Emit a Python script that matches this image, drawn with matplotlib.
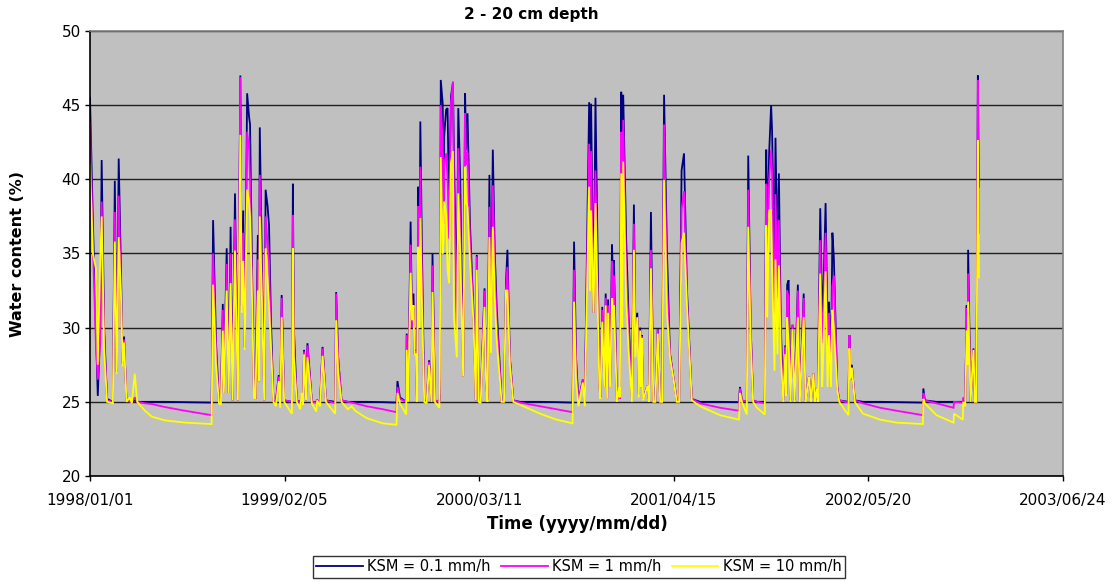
import numpy as np
import matplotlib
matplotlib.use("Agg")
import matplotlib.pyplot as plt

# ---------------- data ----------------
start_date = "1998-01-01"

days = [0, 6, 12, 16, 21, 24, 29, 35, 47, 51, 55, 59, 64, 67, 70, 75, 82, 86, 92, 97,
        113, 127, 154, 195, 250, 253, 259, 265, 269, 273, 275, 281, 285, 289, 293, 298,
        304, 309, 312, 315, 318, 323, 327, 329, 333, 337, 340, 345, 347, 349, 354, 358,
        361, 365, 368, 372, 377, 382, 388, 391, 394, 399, 415, 417, 419, 425, 432, 435,
        438, 440, 444, 447, 456, 465, 467, 473, 478, 485, 504, 506, 510, 517, 530, 538,
        545, 569, 602, 630, 632, 637, 650, 651, 654, 659, 662, 665, 667, 670, 672, 675,
        677, 679, 682, 687, 692, 697, 702, 704, 709, 718, 719, 721, 725, 727, 728, 732,
        735, 738, 742, 746, 748, 754, 757, 761, 767, 771, 773, 776, 781, 788, 793, 795,
        799, 803, 811, 814, 817, 821, 824, 828, 832, 836, 846, 851, 855, 858, 863, 870,
        884, 925, 959, 992, 995, 999, 1004, 1013, 1017, 1026, 1028, 1030, 1035, 1039,
        1047, 1049, 1053, 1057, 1060, 1063, 1065, 1069, 1073, 1075, 1077, 1083, 1088,
        1089, 1092, 1094, 1096, 1102, 1107, 1114, 1118, 1121, 1125, 1128, 1131, 1133,
        1134, 1137, 1146, 1149, 1153, 1158, 1162, 1167, 1172, 1176, 1180, 1186, 1192,
        1199, 1206, 1211, 1216, 1221, 1227, 1237, 1254, 1295, 1334, 1336, 1340, 1350,
        1353, 1358, 1363, 1371, 1387, 1390, 1392, 1396, 1400, 1402, 1407, 1409, 1413,
        1416, 1420, 1425, 1429, 1431, 1433, 1436, 1440, 1444, 1448, 1455, 1459, 1467,
        1471, 1478, 1482, 1487, 1490, 1494, 1496, 1501, 1505, 1507, 1512, 1516, 1519,
        1523, 1526, 1529, 1536, 1540, 1559, 1561, 1563, 1566, 1572, 1589, 1624, 1658,
        1712, 1713, 1716, 1740, 1775, 1776, 1794, 1795, 1799, 1802, 1804, 1805, 1810,
        1816, 1819, 1822, 1825, 1827]

ksm_0_1 = [45.5, 37.0, 30.0, 25.4, 30.0, 41.3, 30.0, 25.2, 25.0, 39.9, 27.0, 41.4, 33.2, 27.6, 29.4, 25.1, 25.0, 25.0, 25.1, 25.0,
           25.0, 25.0, 25.0, 24.98, 24.95, 37.25, 29.0, 25.0, 25.0, 31.6, 25.6, 35.35, 25.6, 36.8, 25.1, 39.05,
           25.1, 47.0, 31.5, 37.9, 28.7, 45.8, 44.2, 43.7, 34.0, 25.5, 25.2, 36.25, 26.4, 43.5, 33.0, 25.1,
           39.3, 38.2, 36.9, 30.4, 25.1, 25.0, 26.8, 25.0, 32.2, 25.1, 25.0, 39.7, 30.0, 25.1, 25.0, 25.2,
           25.0, 28.5, 25.1, 28.95, 25.0, 25.0, 25.1, 25.0, 28.7, 25.1, 25.0, 32.4, 28.0, 25.1, 25.0, 25.0,
           25.0, 25.0, 24.98, 24.95, 26.4, 25.3, 25.0, 29.6, 25.0, 37.15, 30.0, 32.3, 28.2, 28.5, 25.1, 39.5,
           33.0, 43.9, 36.0, 25.1, 25.0, 27.8, 25.0, 35.0, 25.1, 25.0, 25.3, 46.7, 45.1, 38.0, 42.9, 44.7,
           44.8, 38.0, 45.6, 46.5, 41.8, 31.0, 44.8, 40.0, 26.7, 45.8, 42.0, 44.45, 37.0, 31.3, 25.1, 34.9,
           25.1, 25.0, 32.65, 26.5, 25.1, 40.3, 30.0, 42.0, 35.0, 31.3, 25.1, 25.0, 33.0, 35.25, 28.0, 25.1,
           25.0, 25.0, 24.98, 24.95, 35.8, 28.0, 25.0, 26.5, 25.0, 45.2, 33.0, 45.1, 31.0, 45.5,
           26.1, 25.3, 31.4, 26.0, 32.3, 25.2, 31.9, 26.0, 35.6, 33.0, 34.55, 25.1, 25.5,
           25.2, 45.9, 36.0, 45.7, 36.0, 30.8, 25.1, 38.3, 30.0, 31.0, 25.5, 30.0, 26.0,
           29.5, 25.2, 26.1, 25.1, 37.8, 25.1, 25.0, 29.95, 25.0, 25.0, 45.7, 35.0, 28.3,
           26.7, 25.1, 25.0, 40.6, 41.75, 32.6, 25.2, 25.0, 25.0, 24.98, 26.0, 25.1, 25.0,
           41.6, 30.0, 25.1, 25.0, 25.0, 42.0, 36.0, 41.8, 45.0, 43.3, 33.9, 42.8, 35.0,
           40.4, 30.0, 25.1, 28.8, 25.5, 32.9, 33.2, 25.1, 30.2, 25.1, 32.9, 25.1, 32.3,
           25.1, 26.7, 25.1, 26.9, 25.1, 25.9, 25.1, 38.05, 31.0, 31.6, 38.4, 30.0, 31.75,
           27.0, 36.4, 34.7, 26.0, 25.1, 25.0, 29.5, 26.5, 27.5, 25.1, 25.0, 25.0, 24.98,
           24.95, 25.9, 25.1, 25.0, 25.0, 25.0, 25.0, 25.1, 25.0, 31.5, 28.0, 35.25, 25.0,
           28.6, 25.0, 25.0, 47.0, 39.5]

ksm_1 = [43.8, 35.5, 29.0, 26.5, 29.0, 38.5, 29.5, 25.1, 25.0, 37.8, 27.0, 38.9, 32.1, 27.5, 29.2, 25.1, 25.0, 25.0, 25.3, 25.0,
         24.9, 24.85, 24.65, 24.4, 24.1, 35.0, 28.5, 25.0, 25.0, 31.2, 25.6, 34.3, 25.6, 35.0, 25.1, 37.3,
         25.1, 46.9, 31.2, 36.4, 28.6, 43.2, 42.0, 40.0, 33.0, 25.4, 25.2, 34.6, 26.4, 40.3, 32.0, 25.1,
         37.5, 35.7, 34.5, 29.05, 25.1, 25.0, 26.7, 25.0, 32.0, 25.1, 25.0, 37.6, 29.0, 25.1, 24.95, 25.4,
         25.0, 28.4, 25.1, 28.8, 25.0, 24.95, 25.1, 25.0, 28.6, 25.1, 24.9, 32.3, 28.0, 25.1, 25.0, 24.95,
         24.9, 24.7, 24.5, 24.3, 26.0, 25.2, 25.0, 29.5, 25.0, 35.6, 30.0, 31.5, 28.2, 28.4, 25.1, 38.2,
         33.0, 40.85, 34.0, 25.1, 25.0, 27.7, 25.0, 34.2, 25.1, 25.0, 25.5, 45.0, 42.5, 37.0, 41.0, 41.75,
         40.0, 36.0, 45.2, 46.6, 39.5, 30.0, 42.1, 37.0, 26.7, 44.45, 41.0, 41.8, 36.0, 31.0, 25.1, 34.8,
         25.1, 25.0, 32.5, 26.5, 25.1, 38.15, 29.5, 39.6, 34.0, 30.5, 25.1, 25.0, 32.5, 34.1, 28.0, 25.1,
         24.95, 24.7, 24.5, 24.3, 33.9, 27.5, 25.0, 26.5, 25.0, 42.4, 33.0, 41.9, 31.0, 40.6,
         26.1, 25.3, 31.2, 26.0, 32.0, 25.2, 31.5, 26.0, 34.5, 32.0, 33.5, 25.1, 25.5,
         25.2, 43.2, 36.0, 44.0, 34.0, 30.0, 25.1, 37.0, 29.0, 30.7, 25.5, 29.8, 26.0,
         29.4, 25.2, 26.1, 25.1, 35.25, 25.1, 25.0, 29.9, 25.0, 25.0, 43.7, 33.0, 28.2,
         26.7, 25.1, 25.0, 38.0, 39.2, 32.0, 25.2, 24.9, 24.6, 24.4, 25.9, 25.1, 25.0,
         39.3, 30.0, 25.1, 25.0, 24.9, 39.7, 34.0, 40.0, 42.0, 40.5, 30.0, 39.0, 32.0,
         37.25, 29.0, 25.1, 28.7, 25.5, 32.5, 32.0, 25.1, 30.2, 25.1, 32.5, 25.1, 32.0,
         25.1, 26.7, 25.1, 26.9, 25.1, 25.9, 25.1, 35.9, 29.0, 30.0, 36.4, 28.0, 31.0,
         27.0, 32.8, 33.5, 26.0, 25.1, 24.95, 29.5, 26.5, 27.3, 25.1, 24.9, 24.6, 24.4,
         24.1, 25.6, 25.1, 24.9, 24.6, 25.0, 24.95, 25.3, 25.1, 31.3, 28.0, 33.65, 25.0,
         28.5, 25.0, 25.0, 46.7, 36.4]

ksm_10 = [41.0, 35.0, 34.0, 27.5, 34.5, 37.5, 28.5, 25.0, 24.9, 35.8, 26.9, 36.1, 31.9, 27.4, 29.0, 25.0, 25.3, 24.9, 26.9, 25.0,
          24.4, 24.0, 23.75, 23.6, 23.5, 32.9, 27.5, 24.9, 24.8, 29.8, 25.6, 32.5, 25.6, 33.0, 25.1, 35.2,
          25.1, 43.0, 31.0, 34.5, 28.5, 39.3, 38.5, 37.5, 32.0, 25.3, 25.2, 32.5, 26.4, 37.5, 31.0, 25.1,
          35.35, 33.2, 31.5, 28.7, 25.0, 24.7, 26.4, 24.6, 30.7, 25.0, 24.2, 35.35, 28.0, 25.0, 24.5, 25.6,
          24.8, 28.2, 25.1, 28.0, 24.9, 24.35, 25.1, 24.7, 28.1, 25.0, 24.2, 30.5, 27.0, 25.0, 24.5, 24.7,
          24.4, 23.9, 23.55, 23.45, 25.6, 24.9, 24.15, 28.5, 25.0, 33.7, 30.5, 31.5, 28.2, 28.2, 25.0, 35.45,
          30.0, 37.4, 32.0, 25.0, 24.9, 27.5, 25.0, 32.4, 25.0, 24.6, 26.8, 41.5, 35.0, 36.0, 38.5, 37.7,
          33.9, 33.0, 41.1, 41.9, 30.7, 28.0, 39.05, 35.0, 26.7, 40.85, 38.5, 38.1, 34.5, 30.5, 25.1, 33.9,
          25.0, 24.9, 31.4, 26.5, 25.0, 36.1, 28.3, 36.8, 32.0, 29.2, 25.0, 25.0, 32.5, 32.5, 27.5, 25.0,
          24.8, 24.2, 23.8, 23.55, 31.75, 26.5, 24.7, 26.3, 24.7, 39.5, 32.5, 37.9, 31.0, 38.4,
          26.0, 25.2, 30.4, 26.0, 31.5, 25.2, 31.0, 26.0, 32.0, 30.0, 31.5, 25.0, 26.0,
          25.3, 40.4, 30.0, 41.2, 32.0, 28.5, 25.0, 35.25, 28.0, 30.7, 25.3, 29.8, 26.0,
          29.3, 25.1, 26.1, 25.0, 34.0, 25.0, 25.0, 29.6, 25.0, 25.0, 39.95, 31.0, 28.0,
          26.6, 25.0, 25.0, 35.7, 36.4, 31.5, 25.1, 24.7, 24.1, 23.8, 25.6, 25.0, 24.15,
          36.8, 29.0, 25.0, 24.6, 24.15, 36.9, 30.7, 37.9, 37.9, 34.0, 27.1, 34.6, 28.2,
          34.2, 28.0, 25.0, 28.2, 25.4, 30.7, 29.0, 25.0, 29.9, 25.0, 30.7, 25.0, 30.7,
          25.0, 26.7, 25.0, 26.9, 25.0, 25.9, 25.0, 33.65, 26.0, 28.0, 33.8, 26.0, 29.5,
          26.0, 31.2, 30.0, 25.8, 25.0, 24.1, 28.6, 26.5, 27.3, 25.0, 24.2, 23.8, 23.6,
          23.5, 25.2, 24.9, 24.1, 23.6, 24.2, 23.8, 25.0, 24.7, 29.8, 27.5, 31.75, 25.0,
          28.5, 25.0, 25.0, 42.65, 33.4]

series_labels = ["KSM = 0.1 mm/h", "KSM = 1 mm/h", "KSM = 10 mm/h"]
series_colors = ["#000080", "#FF00FF", "#FFFF00"]
x_tick_labels = ["1998/01/01", "1999/02/05", "2000/03/11", "2001/04/15", "2002/05/20", "2003/06/24"]
y_ticks = [20, 25, 30, 35, 40, 45, 50]
title = "2 - 20 cm depth"
x_title = "Time (yyyy/mm/dd)"
y_title = "Water content (%)"

# ---------------- figure ----------------
plt.rcParams['font.family'] = ['DejaVu Sans']
W, H = 1119, 582
fig = plt.figure(figsize=(W / 100, H / 100), dpi=100)
fig.patch.set_facecolor("white")

ax = fig.add_axes([90 / W, 1 - 476 / H, 973 / W, 445 / H])
ax.set_facecolor("#C0C0C0")

t = np.datetime64(start_date) + np.array(days).astype("timedelta64[D]")
series = [ksm_0_1, ksm_1, ksm_10]
lines = []
for vals, lab, col in zip(series, series_labels, series_colors):
    ln, = ax.plot(t, vals, color=col, lw=1.3, label=lab, solid_joinstyle="miter")
    lines.append(ln)

xt = [np.datetime64(s.replace("/", "-")) for s in x_tick_labels]
ax.set_xlim(xt[0], xt[-1])
ax.set_xticks(xt)
ax.set_xticklabels(x_tick_labels)
ax.set_ylim(y_ticks[0], y_ticks[-1])
ax.set_yticks(y_ticks)

ax.yaxis.grid(True, color="#202020", lw=1.0)
ax.set_axisbelow(True)
ax.tick_params(axis="both", labelsize=11, colors="black", length=3.5, width=1, direction="out")
ax.tick_params(axis="x", pad=9)
ax.tick_params(axis="y", pad=3)

for side in ["left", "bottom"]:
    ax.spines[side].set_color("black")
    ax.spines[side].set_linewidth(1.2)
for side in ["top", "right"]:
    ax.spines[side].set_color("#808080")
    ax.spines[side].set_linewidth(1.2)

fig.text(531 / W, 1 - 15 / H, title, ha="center", va="center", fontsize=11, fontweight="bold")
fig.text(577 / W, 1 - 524 / H, x_title, ha="center", va="center", fontsize=12, fontweight="bold")
fig.text(18 / W, 1 - 254 / H, y_title, ha="center", va="center", rotation=90, fontsize=11.5, fontweight="bold")

leg = fig.legend(handles=lines, labels=series_labels, loc="center",
                 bbox_to_anchor=(579 / W, 1 - 567 / H), ncol=3, fontsize=10.5,
                 frameon=True, fancybox=False, handlelength=3.2, handletextpad=0.3,
                 columnspacing=0.7, borderpad=0.25)
leg.get_frame().set_edgecolor("black")
leg.get_frame().set_linewidth(1.0)

fig.savefig("out.png", dpi=100, facecolor="white")
